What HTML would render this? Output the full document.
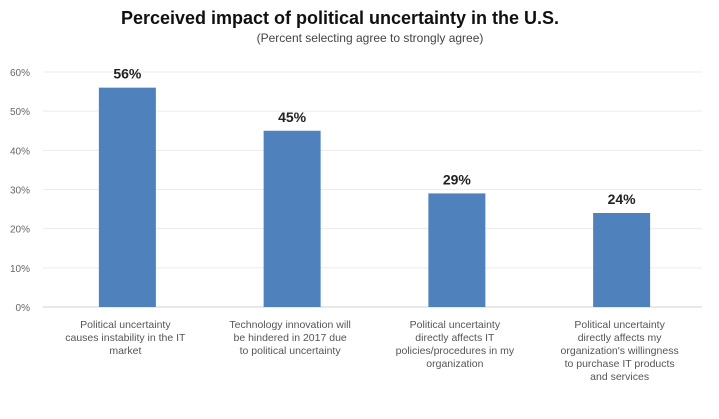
<!DOCTYPE html>
<html><head><meta charset="utf-8"><style>
body{margin:0;background:#fff;width:719px;height:414px;overflow:hidden;font-family:"Liberation Sans",sans-serif}
</style></head><body>
<svg width="719" height="414">
<text x="340" y="24" text-anchor="middle" font-size="18" font-weight="bold" fill="#111">Perceived impact of political uncertainty in the U.S.</text>
<text x="370" y="42" text-anchor="middle" font-size="12" fill="#444">(Percent selecting agree to strongly agree)</text>
<g id="g"></g>
</svg>
<script>
const categories=[["Political uncertainty","causes instability in the IT","market"],["Technology innovation will","be hindered in 2017 due","to political uncertainty"],["Political uncertainty","directly affects IT","policies/procedures in my","organization"],["Political uncertainty","directly affects my","organization's willingness","to purchase IT products","and services"]];
const values=[56,45,29,24];
const ticks=[0,10,20,30,40,50,60];
const g=document.getElementById('g');
const NS='http://www.w3.org/2000/svg';
const x0=43,x1=702,yb=307,yt=72;
const y=v=>yb-(v/60)*(yb-yt);
const band=(x1-x0)/categories.length;
function mk(t,a){const e=document.createElementNS(NS,t);for(const k in a)e.setAttribute(k,a[k]);g.appendChild(e);return e;}
ticks.forEach(t=>{
const l=mk('line',{x1:x0,x2:x1,y1:y(t),y2:y(t),stroke:t===0?'#d0d0d0':'#ececec','stroke-width':1});


const tx=mk('text',{x:30,y:y(t)+4,'text-anchor':'end','font-size':10,fill:'#666'});tx.textContent=t+'%';


});
values.forEach((v,i)=>{
const cx=x0+band*(i+0.5)+2;
const r=mk('rect',{x:cx-28.5,y:y(v),width:57,height:yb-y(v),fill:'#4f81bd'});


const vl=mk('text',{x:cx,y:y(v)-9,'text-anchor':'middle','font-size':14,'font-weight':'bold',fill:'#222'});vl.textContent=v+'%';


categories[i].forEach((s,j)=>{
const c=mk('text',{x:cx-2,y:328+j*13,'text-anchor':'middle','font-size':10.5,fill:'#555'});c.textContent=s;


});
});
</script>
</body></html>
